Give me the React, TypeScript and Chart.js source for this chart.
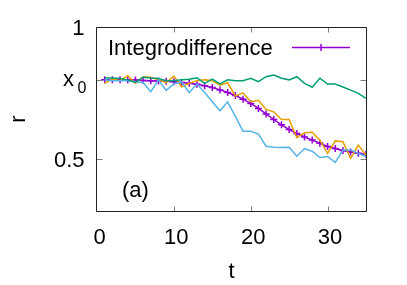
import React, { useEffect, useRef } from "react";
import { Chart, registerables } from "chart.js";

Chart.register(...registerables);

const tValues = [1, 2, 3, 4, 5, 6, 7, 8, 9, 10, 11, 12, 13, 14, 15, 16, 17, 18, 19, 20, 21, 22, 23, 24, 25, 26, 27, 28, 29, 30, 31, 32, 33, 34, 35];

const greenSeries = [0.807, 0.807, 0.805, 0.800, 0.790, 0.810, 0.807, 0.805, 0.797, 0.797, 0.800, 0.802, 0.808, 0.787, 0.803, 0.785, 0.800, 0.797, 0.797, 0.806, 0.793, 0.812, 0.818, 0.806, 0.800, 0.812, 0.787, 0.772, 0.806, 0.784, 0.784, 0.773, 0.761, 0.749, 0.730];

const blueSeries = [0.800, 0.797, 0.797, 0.797, 0.793, 0.790, 0.755, 0.800, 0.760, 0.785, 0.792, 0.752, 0.784, 0.752, 0.717, 0.683, 0.717, 0.662, 0.606, 0.606, 0.595, 0.549, 0.545, 0.544, 0.545, 0.511, 0.540, 0.530, 0.506, 0.510, 0.488, 0.535, 0.535, 0.522, 0.510];

const orangeSeries = [0.787, 0.803, 0.797, 0.816, 0.787, 0.812, 0.810, 0.800, 0.789, 0.814, 0.774, 0.787, 0.797, 0.800, 0.797, 0.780, 0.789, 0.739, 0.751, 0.717, 0.723, 0.688, 0.679, 0.650, 0.650, 0.581, 0.600, 0.602, 0.572, 0.522, 0.569, 0.566, 0.503, 0.553, 0.515];

const purpleSeries = [0.800, 0.800, 0.800, 0.799, 0.799, 0.798, 0.797, 0.796, 0.795, 0.793, 0.790, 0.787, 0.783, 0.778, 0.771, 0.762, 0.752, 0.741, 0.727, 0.711, 0.692, 0.671, 0.650, 0.630, 0.612, 0.597, 0.584, 0.572, 0.560, 0.548, 0.540, 0.533, 0.527, 0.522, 0.518];

const xTicks = [0, 10, 20, 30];
const yTicks = [0.5, 0.8, 1];
const yTickLabels = ["0.5", "x_0", "1"];
const legendLabel = "Integrodifference";
const panelLabel = "(a)";
const xTitle = "t";
const yTitle = "r";

const FONT = '"Liberation Sans", Arial, sans-serif';

const toPoints = (ys: number[]) => tValues.map((t, i) => ({ x: t, y: ys[i] }));

const overlayPlugin = {
  id: "overlay",
  afterDatasetsDraw(chart: any) {
    const { ctx, chartArea: a, scales } = chart;
    const xs = scales.x;
    const ys = scales.y;
    ctx.save();
    const line = (x1: number, y1: number, x2: number, y2: number) => {
      ctx.beginPath();
      ctx.moveTo(x1, y1);
      ctx.lineTo(x2, y2);
      ctx.stroke();
    };
    const L = a.left - 0.5;
    const R = a.right + 0.5;
    const T = a.top + 0.5;
    const B = a.bottom - 0.5;
    // tick marks
    ctx.strokeStyle = "#7f7f7f";
    ctx.lineWidth = 1;
    xTicks.forEach((v) => {
      const px = Math.round(xs.getPixelForValue(v)) + 0.5;
      if (v > xs.min) {
        line(px, B, px, B - 5);
        line(px, T, px, T + 5);
      }
    });
    yTicks.forEach((v) => {
      const py = Math.round(ys.getPixelForValue(v)) + 0.5;
      if (v < ys.max) {
        line(L, py, L + 6, py);
        line(R, py, R - 6, py);
      }
    });
    // border
    ctx.strokeStyle = "#222";
    ctx.lineWidth = 1;
    ctx.beginPath();
    ctx.moveTo(L, T);
    ctx.lineTo(R, T);
    ctx.lineTo(R, B);
    ctx.lineTo(L, B);
    ctx.closePath();
    ctx.stroke();

    ctx.fillStyle = "#000";
    ctx.font = `22px ${FONT}`;
    // x tick labels
    ctx.textAlign = "center";
    ctx.textBaseline = "alphabetic";
    xTicks.forEach((v) => {
      const px = xs.getPixelForValue(v);
      ctx.fillText(String(v), px + 2.5, 244);
    });
    // y tick labels
    yTicks.forEach((v, i) => {
      const py = ys.getPixelForValue(v);
      const lab = yTickLabels[i];
      if (lab.includes("_")) {
        const [main, sub] = lab.split("_");
        ctx.textAlign = "left";
        ctx.font = `22px ${FONT}`;
        ctx.fillText(main, 63, py + 6.5);
        ctx.font = `16px ${FONT}`;
        ctx.fillText(sub, 77.5, py + 13);
        ctx.font = `22px ${FONT}`;
      } else {
        ctx.textAlign = "right";
        ctx.fillText(lab, 84.5, py + 8);
      }
    });
    // axis titles
    ctx.textAlign = "center";
    ctx.fillText(xTitle, (a.left + a.right) / 2, 278);
    ctx.save();
    ctx.translate(25, 119);
    ctx.rotate(-Math.PI / 2);
    ctx.textAlign = "center";
    ctx.fillText(yTitle, 0, 0);
    ctx.restore();
    // panel label
    ctx.textAlign = "left";
    ctx.fillText(panelLabel, 122, 197);
    // legend
    ctx.fillText(legendLabel, 108, 55);
    ctx.strokeStyle = "#9400d3";
    ctx.lineWidth = 1.5;
    line(292, 47.5, 350, 47.5);
    line(321, 44, 321, 51);
    ctx.restore();
  },
};

export default function App() {
  const ref = useRef<HTMLCanvasElement | null>(null);
  useEffect(() => {
    if (!ref.current) return;
    const base = {
      fill: false,
      tension: 0,
      borderWidth: 1.5,
      pointRadius: 0,
    };
    const chart = new Chart(ref.current, {
      type: "line",
      data: {
        datasets: [
          { ...base, data: toPoints(greenSeries), borderColor: "#009e73" },
          { ...base, data: toPoints(blueSeries), borderColor: "#56b4e9" },
          { ...base, data: toPoints(orangeSeries), borderColor: "#e69f00" },
          {
            ...base,
            label: legendLabel,
            data: toPoints(purpleSeries),
            borderColor: "#9400d3",
            pointStyle: "cross",
            pointRadius: 3.5,
            pointBorderWidth: 1.5,
            pointBorderColor: "#9400d3",
          },
        ] as any,
      },
      options: {
        responsive: false,
        animation: false,
        events: [],
        layout: { padding: { left: 97, right: 41, top: 27, bottom: 73 } },
        plugins: { legend: { display: false }, tooltip: { enabled: false } },
        scales: {
          x: { type: "linear", min: 0, max: 35, display: false },
          y: { type: "linear", min: 0.3, max: 1, display: false },
        },
      },
      plugins: [overlayPlugin],
    });
    return () => chart.destroy();
  }, []);
  return (
    <div style={{ position: "fixed", left: 0, top: 0, width: 407, height: 285, background: "#fff" }}>
      <canvas ref={ref} width={407} height={285} style={{ display: "block" }} />
    </div>
  );
}
